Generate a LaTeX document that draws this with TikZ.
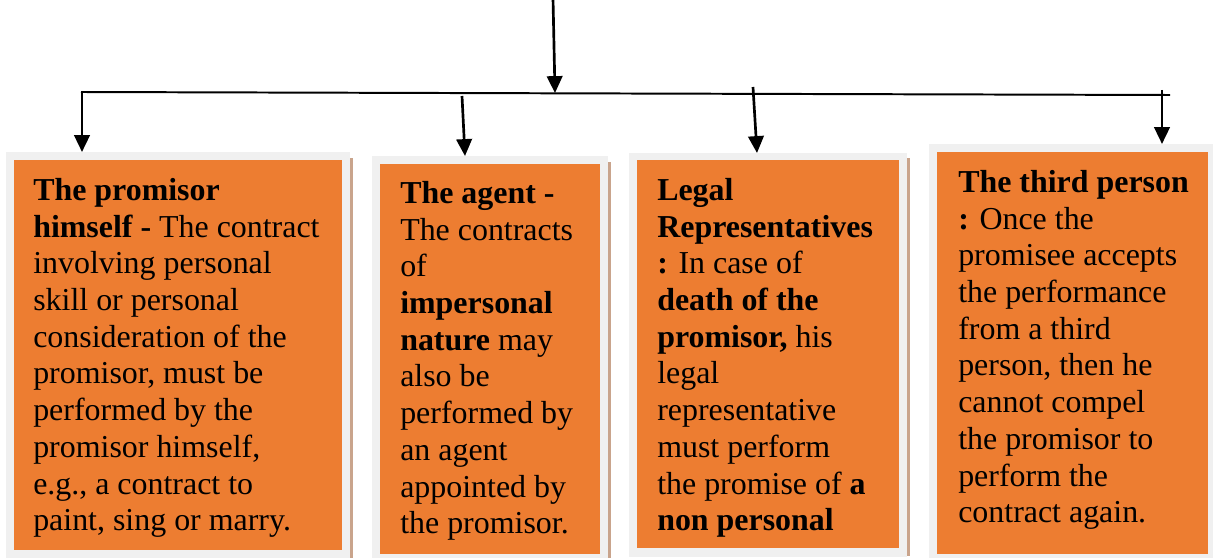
\documentclass[tikz,border=0pt]{standalone}
\usepackage{fontspec}
\setmainfont{Liberation Serif}
\usetikzlibrary{arrows.meta}
\definecolor{cardorange}{HTML}{ED7D31}
\definecolor{framegray}{HTML}{F0F0F0}
\definecolor{shadowtan}{HTML}{C9A48C}

\begin{document}
\begin{tikzpicture}[x=0.025cm, y=-0.025cm,
    frame/.style={fill=framegray, inner sep=0pt, anchor=north west},
    card/.style={fill=cardorange, inner sep=0pt, anchor=north west},
    shade/.style={fill=shadowtan, inner sep=0pt, anchor=north west, minimum width=0.075cm},
    txt/.style={anchor=north west, inner sep=0pt, align=left, font=\fontsize{22.7}{26.1}\selectfont},
    link/.style={line width=1.4pt},
    drop/.style={line width=1.9pt, -{Triangle[width=11pt, length=12pt]}}
  ]
  \useasboundingbox (0,0) rectangle (1213,558);

  % the promisor himself
  \node[frame, minimum width=8.6cm, minimum height=10.2cm] (frame1) at (6,152) {};
  \node[shade, minimum height=10cm] (shade1) at (350,158) {};
  \node[card, minimum width=8.2cm, minimum height=9.75cm] (card1) at (14,160) {};
  \node[txt] (text1) at (33,178) {\textbf{The promisor}\\ \textbf{himself -} The contract\\ involving personal\\ skill or personal\\ consideration of the\\ promisor, must be\\ performed by the\\ promisor himself,\\ e.g., a contract to\\ paint, sing or marry.};

  % the agent
  \node[frame, minimum width=5.9cm, minimum height=10.1cm] (frame2) at (372,156) {};
  \node[shade, minimum height=10cm] (shade2) at (608,162) {};
  \node[card, minimum width=5.5cm, minimum height=9.75cm] (card2) at (380,164) {};
  \node[txt] (text2) at (400,181) {\textbf{The agent -}\\ The contracts\\ of\\ \textbf{impersonal}\\ \textbf{nature} may\\ also be\\ performed by\\ an agent\\ appointed by\\ the promisor.};

  % legal representatives
  \node[frame, minimum width=6.95cm, minimum height=10.1cm] (frame3) at (629,153) {};
  \node[shade, minimum height=9.95cm] (shade3) at (907,158) {};
  \node[card, minimum width=6.55cm, minimum height=9.7cm] (card3) at (637,160) {};
  \node[txt] (text3) at (657,178) {\textbf{Legal}\\ \textbf{Representatives}\\ \textbf{:} In case of\\ \textbf{death of the}\\ \textbf{promisor,} his\\ legal\\ representative\\ must perform\\ the promise of \textbf{a}\\ \textbf{non personal}};

  % the third person
  \node[frame, minimum width=7.25cm, minimum height=10.4cm] (frame4) at (929,144) {};
  \node[card, minimum width=6.775cm, minimum height=10.05cm] (card4) at (937,152) {};
  \node[txt] (text4) at (958,170) {\textbf{The third person}\\ \textbf{:} Once the\\ promisee accepts\\ the performance\\ from a third\\ person, then he\\ cannot compel\\ the promisor to\\ perform the\\ contract again.};

  % connectors
  \coordinate (src) at (553,-2);
  \coordinate (hub) at (555,93);
  \coordinate (barL) at (81,92);
  \coordinate (barR) at (1170,95);
  \coordinate (j1) at (82,91);
  \coordinate (j2) at (462,96);
  \coordinate (j3) at (753,87);
  \coordinate (j4) at (1162,90);
  \coordinate (t2) at (465,0);
  \coordinate (t3) at (757,0);
  \draw[link] (barL) -- (barR);
  \draw[drop] (src) -- (hub);
  \draw[drop] (j1) -- (j1 |- frame1.north);
  \draw[drop] (j2) -- (t2 |- frame2.north);
  \draw[drop] (j3) -- (t3 |- frame3.north);
  \draw[drop] (j4) -- (j4 |- frame4.north);
\end{tikzpicture}
\end{document}
